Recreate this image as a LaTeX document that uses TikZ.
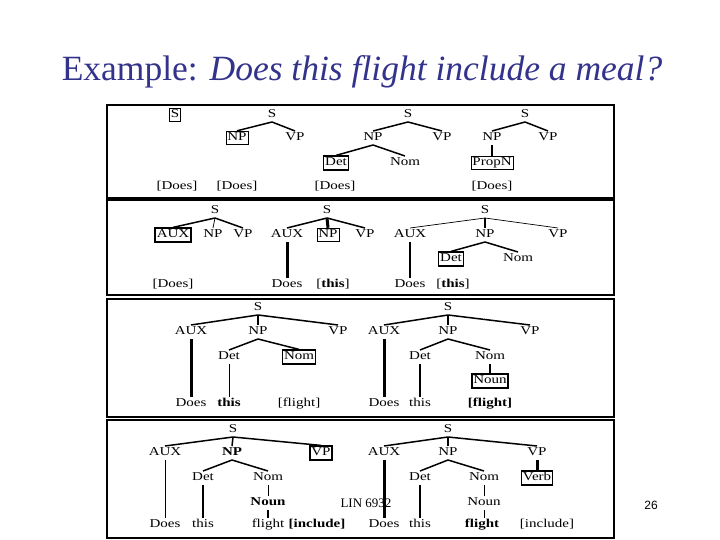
\documentclass[tikz,border=0pt]{standalone}
\usepackage{fontspec}
\setmainfont{Liberation Serif}
\newfontfamily\treefont[FakeStretch=1.25]{Liberation Serif}
\newfontfamily\pagefont{Liberation Sans}
\definecolor{titleblue}{RGB}{51,51,140}
\begin{document}
\begin{tikzpicture}[x=1pt,y=-1pt,
  lab/.style={inner sep=1.5pt, text height=8.2pt, text depth=2.4pt, font=\treefont\fontsize{12}{13}\selectfont},
  bx/.style={lab, draw, line width=0.8pt},
  bbx/.style={lab, draw, line width=1.6pt},
  tn/.style={line width=0.7pt},
  tk/.style={line width=1.5pt},
  vtk/.style={line width=3pt},
  frm/.style={line width=1.5pt}]
\useasboundingbox (0,0) rectangle (720,540);
% title
\node[text=titleblue, font=\fontsize{35.5}{38}\selectfont, anchor=base] (title) at (362,81)
  {Example: \textit{Does this flight include a meal?}};
% frames
\draw[frm] (107,105) rectangle (614,198);
\draw[frm] (107,200) rectangle (614,295);
\draw[line width=2.5pt] (107,295) -- (614,295);
\draw[frm] (107,299) rectangle (614,417);
\draw[line width=2.5pt] (107,417) -- (614,417);
\draw[frm] (107,420) rectangle (614,538);
% ---------- Panel 1 ----------
\node[bx] (a1S) at (175,115) {S};
\node[lab] (a1w) at (177,187) {[Does]};
\node[lab] (a2S) at (272,115) {S};
\node[bx] (a2NP) at (237,138) {NP};
\node[lab] (a2VP) at (295,138) {VP};
\node[lab] (a2w) at (237,187) {[Does]};
\draw[tk] (a2S.south) -- (a2NP.north);
\draw[tk] (a2S.south) -- (a2VP.north);
\node[lab] (a3S) at (408,115) {S};
\node[lab] (a3NP) at (373,138) {NP};
\node[lab] (a3VP) at (442,138) {VP};
\node[bbx] (a3Det) at (336,163) {Det};
\node[lab] (a3Nom) at (405,163) {Nom};
\node[lab] (a3w) at (335,187) {[Does]};
\draw[tk] (a3S.south) -- (a3NP.north);
\draw[tk] (a3S.south) -- (a3VP.north);
\draw[tk] (a3NP.south) -- (a3Det.north);
\draw[tk] (a3NP.south) -- (a3Nom.north);
\node[lab] (a4S) at (525,115) {S};
\node[lab] (a4NP) at (492,138) {NP};
\node[lab] (a4VP) at (548,138) {VP};
\node[bx] (a4P) at (492,163) {PropN};
\node[lab] (a4w) at (492,187) {[Does]};
\draw[tk] (a4S.south) -- (a4NP.north);
\draw[tk] (a4S.south) -- (a4VP.north);
\draw[tk] (a4NP.south) -- (a4P.north);
% ---------- Panel 2 ----------
\node[lab] (b1S) at (215,211) {S};
\node[bbx] (b1AUX) at (173,235) {AUX};
\node[lab] (b1NP) at (213,235) {NP};
\node[lab] (b1VP) at (243,235) {VP};
\node[lab] (b1w) at (173,285) {[Does]};
\draw[tk] (b1S.south) -- (b1AUX.north);
\draw[tn] (b1S.south) -- (b1NP.north);
\draw[tk] (b1S.south) -- (b1VP.north);
\node[lab] (b2S) at (327,211) {S};
\node[lab] (b2AUX) at (287,235) {AUX};
\node[bx] (b2NP) at (328,235) {NP};
\node[lab] (b2VP) at (365,235) {VP};
\node[lab] (b2Does) at (287,285) {Does};
\node[lab] (b2this) at (333,285) {[\textbf{this}]};
\draw[tk] (b2S.south) -- (b2AUX.north);
\draw[vtk] (b2S.south) -- (b2NP.north);
\draw[tk] (b2S.south) -- (b2VP.north);
\draw[vtk] (b2AUX.south) -- (b2Does.north);
\node[lab] (b3S) at (485,211) {S};
\node[lab] (b3AUX) at (410,235) {AUX};
\node[lab] (b3NP) at (485,235) {NP};
\node[lab] (b3VP) at (558,235) {VP};
\node[bbx] (b3Det) at (451,259) {Det};
\node[lab] (b3Nom) at (518,259) {Nom};
\node[lab] (b3Does) at (410,285) {Does};
\node[lab] (b3this) at (453,285) {[\textbf{this}]};
\draw[tn] (b3S.south) -- (b3AUX.north);
\draw[tk] (b3S.south) -- (b3NP.north);
\draw[tn] (b3S.south) -- (b3VP.north);
\draw[tk] (b3NP.south) -- (b3Det.north);
\draw[tk] (b3NP.south) -- (b3Nom.north);
\draw[tk] (b3AUX.south) -- (b3Does.north);
% ---------- Panel 3 ----------
\node[lab] (c1S) at (258,308) {S};
\node[lab] (c1AUX) at (191,332) {AUX};
\node[lab] (c1NP) at (258,332) {NP};
\node[lab] (c1VP) at (338,332) {VP};
\node[lab] (c1Det) at (229,357) {Det};
\node[bbx] (c1Nom) at (299,357) {Nom};
\node[lab] (c1Does) at (191,404) {Does};
\node[lab] (c1this) at (229,404) {\textbf{this}};
\node[lab] (c1fl) at (299,404) {[flight]};
\draw[tk] (c1S.south) -- (c1AUX.north);
\draw[tk] (c1S.south) -- (c1NP.north);
\draw[tk] (c1S.south) -- (c1VP.north);
\draw[tk] (c1NP.south) -- (c1Det.north);
\draw[tk] (c1NP.south) -- (c1Nom.north);
\draw[vtk] (c1AUX.south) -- (c1Does.north);
\draw[tn] (c1Det.south) -- (c1this.north);
\node[lab] (c2S) at (448,308) {S};
\node[lab] (c2AUX) at (384,332) {AUX};
\node[lab] (c2NP) at (448,332) {NP};
\node[lab] (c2VP) at (530,332) {VP};
\node[lab] (c2Det) at (420,357) {Det};
\node[lab] (c2Nom) at (490,357) {Nom};
\node[bbx] (c2Noun) at (490,381) {Noun};
\node[lab] (c2Does) at (384,404) {Does};
\node[lab] (c2this) at (420,404) {this};
\node[lab] (c2fl) at (490,404) {\textbf{[flight]}};
\draw[tk] (c2S.south) -- (c2AUX.north);
\draw[tk] (c2S.south) -- (c2NP.north);
\draw[tk] (c2S.south) -- (c2VP.north);
\draw[tk] (c2NP.south) -- (c2Det.north);
\draw[tk] (c2NP.south) -- (c2Nom.north);
\draw[tk] (c2Nom.south) -- (c2Noun.north);
\draw[vtk] (c2AUX.south) -- (c2Does.north);
\draw[tk] (c2Det.south) -- (c2this.north);
% ---------- Panel 4 ----------
\node[lab] (d1S) at (233,430) {S};
\node[lab] (d1AUX) at (165,453) {AUX};
\node[lab] (d1NP) at (232,453) {\textbf{NP}};
\node[bbx] (d1VP) at (321,453) {VP};
\node[lab] (d1Det) at (203,478) {Det};
\node[lab] (d1Nom) at (268,478) {Nom};
\node[lab] (d1Noun) at (268,503) {\textbf{Noun}};
\node[lab] (d1Does) at (165,525) {Does};
\node[lab] (d1this) at (203,525) {this};
\node[lab] (d1fl) at (268,525) {flight};
\node[lab] (d1inc) at (317,525) {\textbf{[include]}};
\draw[tk] (d1S.south) -- (d1AUX.north);
\draw[tk] (d1S.south) -- (d1NP.north);
\draw[tk] (d1S.south) -- (d1VP.north);
\draw[tk] (d1NP.south) -- (d1Det.north);
\draw[tk] (d1NP.south) -- (d1Nom.north);
\draw[tn] (d1AUX.south) -- (d1Does.north);
\draw[tk] (d1Det.south) -- (d1this.north);
\draw[tn] (d1Nom.south) -- (d1Noun.north);
\draw[tk] (d1Noun.south) -- (d1fl.north);
\node[lab] (d2S) at (448,430) {S};
\node[lab] (d2AUX) at (384,453) {AUX};
\node[lab] (d2NP) at (448,453) {NP};
\node[lab] (d2VP) at (537,453) {VP};
\node[lab] (d2Det) at (420,478) {Det};
\node[lab] (d2Nom) at (484,478) {Nom};
\node[bbx] (d2Verb) at (537,478) {Verb};
\node[lab] (d2Noun) at (484,503) {Noun};
\node[lab] (d2Does) at (384,525) {Does};
\node[lab] (d2this) at (420,525) {this};
\node[lab] (d2fl) at (482,525) {\textbf{flight}};
\node[lab] (d2inc) at (547,525) {[include]};
\draw[tk] (d2S.south) -- (d2AUX.north);
\draw[tk] (d2S.south) -- (d2NP.north);
\draw[tk] (d2S.south) -- (d2VP.north);
\draw[tk] (d2NP.south) -- (d2Det.north);
\draw[tk] (d2NP.south) -- (d2Nom.north);
\draw[vtk] (d2VP.south) -- (d2Verb.north);
\draw[vtk] (d2AUX.south) -- (d2Does.north);
\draw[tk] (d2Det.south) -- (d2this.north);
\draw[tn] (d2Nom.south) -- (d2Noun.north);
\draw[tn] (d2Noun.south) -- (d2Noun.south |- d2fl.north);
% footer
\node[font=\fontsize{13}{14}\selectfont] (foot) at (366,503) {LIN 6932};
\node[font=\pagefont\fontsize{12}{14}\selectfont] (page) at (651,505) {26};
\end{tikzpicture}
\end{document}
